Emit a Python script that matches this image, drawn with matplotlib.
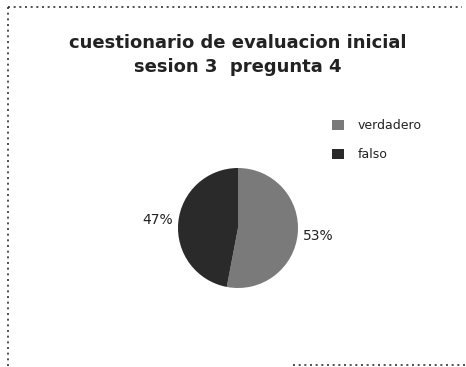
import matplotlib.pyplot as plt
from matplotlib.patches import Patch

# datos de la pregunta 4
categorias = ['verdadero', 'falso']
porcentajes = [53, 47]
colores = ['#7a7a7a', '#2a2a2a']
titulo = 'cuestionario de evaluacion inicial\nsesion 3  pregunta 4'

W, H = 466, 367
fig = plt.figure(figsize=(W / 100, H / 100), dpi=100)
ax = fig.add_axes([0, 0, 1, 1])

# pastel (coordenadas en pixeles, y hacia arriba)
cx, cy, r = 238, H - 228, 60
wedges, textos = ax.pie(porcentajes, colors=colores, startangle=90, counterclock=False,
                        center=(cx, cy), radius=r, labels=['%d%%' % p for p in porcentajes],
                        labeldistance=1.35, frame=True,
                        textprops=dict(fontsize=10, color='#222222'))
for t in textos:
    t.set_ha('center')

ax.set_xlim(0, W)
ax.set_ylim(0, H)
ax.axis('off')

# marco punteado
estilo = dict(color='#333333', lw=1.2, linestyle=(0, (1.2, 2.2)))
ax.plot([8, 462], [H - 7, H - 7], **estilo)
ax.plot([8, 8], [H - 7, 0], **estilo)
ax.plot([293, W], [H - 365, H - 365], **estilo)

ax.text(238, H - 55, titulo, ha='center', va='center', fontsize=13,
        fontweight='bold', color='#222222', linespacing=1.45)

# leyenda
handles = [Patch(facecolor=c, edgecolor='none') for c in colores]
fig.legend(handles, categorias, loc='upper left', bbox_to_anchor=(321 / W, 1 - 108 / H),
           frameon=False, fontsize=9, handlelength=0.9, handleheight=0.9,
           handletextpad=1.1, labelspacing=1.3, labelcolor='#222222')

fig.savefig('out.png', dpi=100)
